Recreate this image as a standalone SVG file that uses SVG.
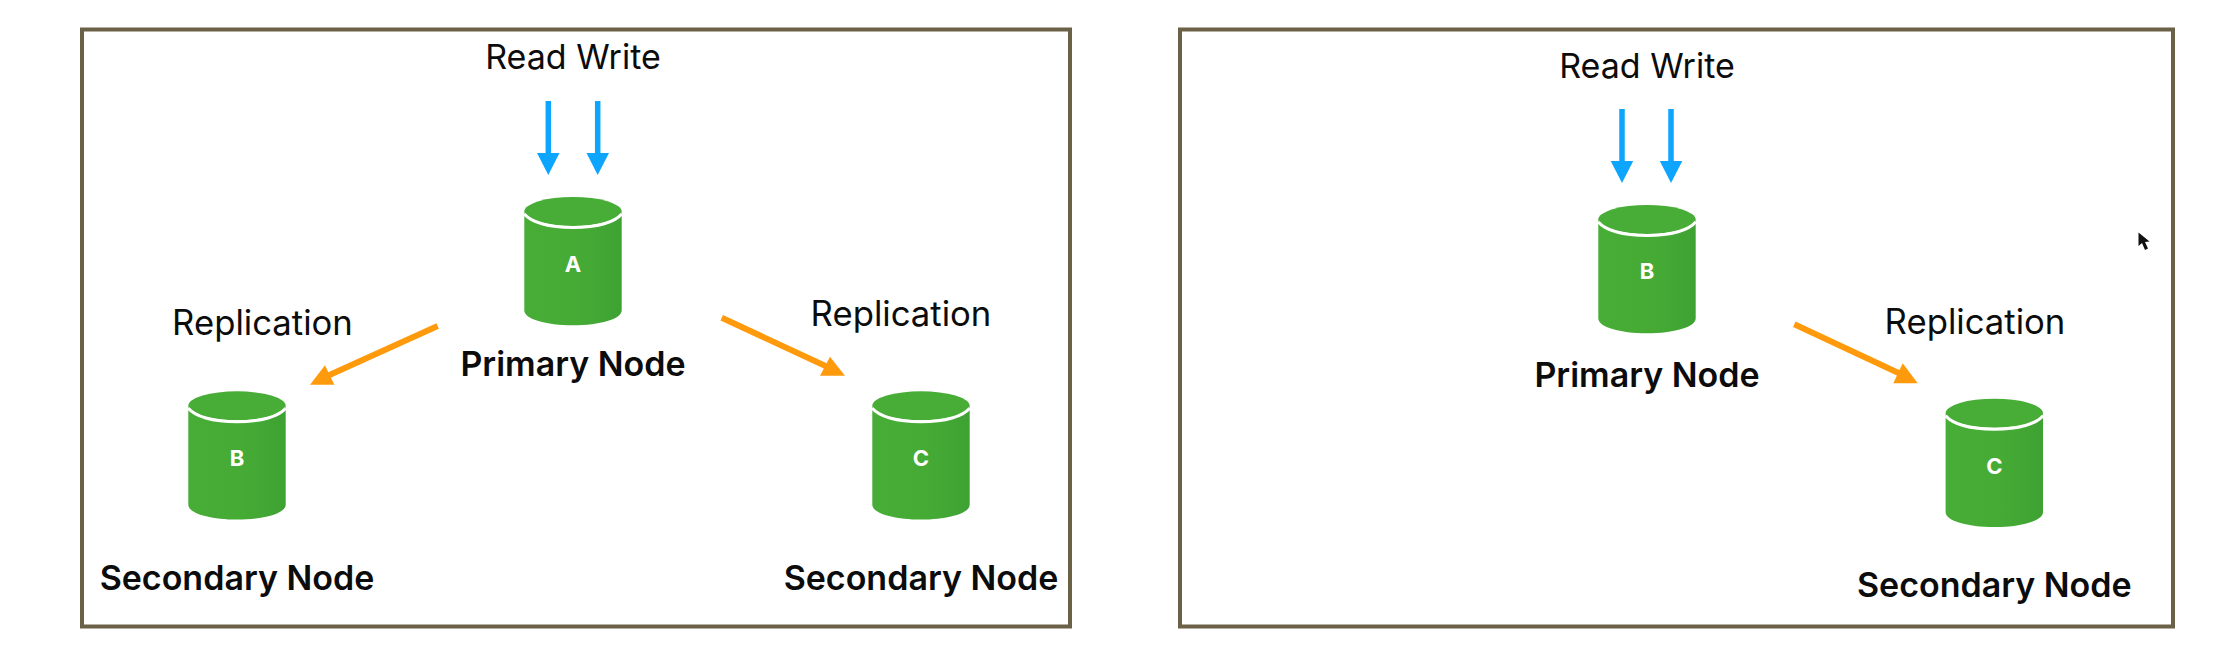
<svg xmlns="http://www.w3.org/2000/svg" width="2240" height="658" viewBox="0 0 2240 658">
<style>
.frame{fill:#fff;stroke:#6b6147;stroke-width:4}
.lbl{font-family:Inter,"Liberation Sans",sans-serif;font-size:34px;fill:#0c0c0c;text-anchor:middle}
.r{font-size:34.7px}
.b{font-weight:600}
.db{font-family:Inter,"Liberation Sans",sans-serif;font-size:22px;font-weight:700;fill:#fff;text-anchor:middle}
.blue{stroke:#0ea5ff;stroke-width:5.5;fill:none}
.bluehead{fill:#0ea5ff}
.or{stroke:#ff9a0d;stroke-width:6;fill:none}
.orhead{fill:#ff9a0d}
</style>
<defs>
<linearGradient id="g" x1="0" y1="0" x2="1" y2="0"><stop offset="0" stop-color="#48ad36"/><stop offset="0.55" stop-color="#46ab35"/><stop offset="1" stop-color="#3ea233"/></linearGradient>
<g id="cyl">
<path d="M-48.700 15V113.500C-48.700 122 -27 128.300 0 128.300S48.700 122 48.700 113.500V15C48.700 24 27 31 0 31S-48.700 24 -48.700 15Z" fill="url(#g)"/>
<ellipse cx="0" cy="14.500" rx="48.700" ry="14.500" fill="#48ad36"/>
<path d="M-48.700 17C-42 25 -25 30.500 0 30.500S42 25 48.700 17" fill="none" stroke="#fff" stroke-width="3"/>
</g>
</defs>
<rect width="2240" height="658" fill="#fff"/>
<g id="panel-left"><rect class="frame" x="82" y="29.500" width="988" height="597"/></g>
<g id="panel-right"><rect class="frame" x="1180" y="29.500" width="993" height="597"/></g>
<g id="connectors">
<path class="blue" d="M548.300 101V156"/><polygon class="bluehead" points="537,153 559.500,153 548.300,175"/>
<path class="blue" d="M597.700 101V156"/><polygon class="bluehead" points="586.500,153 609,153 597.700,175"/>
<path class="or" d="M437.700 326L325 377"/><polygon class="orhead" points="310,384.700 325,365.300 334.300,384.700"/>
<path class="or" d="M721.700 317.700L832 369"/><polygon class="orhead" points="845,375.700 830,356.700 820,375.700"/>
<path class="blue" d="M1622 109V164"/><polygon class="bluehead" points="1610.700,161 1633.200,161 1622,183"/>
<path class="blue" d="M1671 109V164"/><polygon class="bluehead" points="1659.800,161 1682.300,161 1671,183"/>
<path class="or" d="M1794.300 324.300L1905 376"/><polygon class="orhead" points="1917.700,383.300 1902.700,363.300 1893.300,383.300"/>
</g>
<g id="node-a"><use href="#cyl" x="573" y="197"/><text class="db" x="573" y="272">A</text><text class="lbl b" x="573" y="376">Primary Node</text></g>
<g id="node-b"><use href="#cyl" x="237" y="391.300"/><text class="db" x="237" y="466">B</text><text class="lbl b" x="237" y="590">Secondary Node</text></g>
<g id="node-c"><use href="#cyl" x="921" y="391.300"/><text class="db" x="921" y="466">C</text><text class="lbl b" x="921" y="590">Secondary Node</text></g>
<g id="node-b2"><use href="#cyl" x="1647" y="205"/><text class="db" x="1647" y="279">B</text><text class="lbl b" x="1647" y="387">Primary Node</text></g>
<g id="node-c2"><use href="#cyl" x="1994.300" y="398.700"/><text class="db" x="1994.300" y="474">C</text><text class="lbl b" x="1994.300" y="597">Secondary Node</text></g>
<g id="labels">
<text class="lbl" x="573" y="68.500">Read Write</text>
<text class="lbl" x="1647" y="77.500">Read Write</text>
<text class="lbl r" x="262.500" y="335">Replication</text>
<text class="lbl r" x="901" y="326">Replication</text>
<text class="lbl r" x="1975" y="334">Replication</text>
</g>
<polygon id="cursor" points="2138.500,232.500 2138.500,246 2142,243 2145,250 2148,248.500 2145,242 2149.500,241.500" fill="#111"/>
</svg>
